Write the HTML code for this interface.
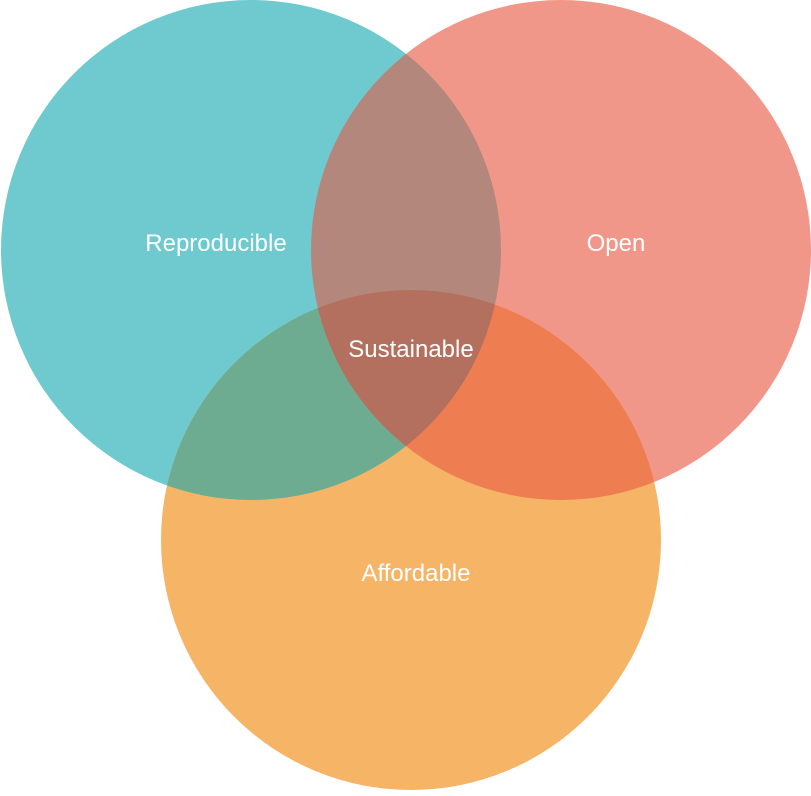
<!DOCTYPE html>
<html><head><style>html,body{margin:0;padding:0;background:#fff}</style></head>
<body>
<svg width="811" height="791" viewBox="0 0 811 791" xmlns="http://www.w3.org/2000/svg">
<defs>
<clipPath id="t"><circle cx="251" cy="250" r="250"/></clipPath>
<clipPath id="r"><circle cx="561" cy="250" r="250"/></clipPath>
</defs>
<circle cx="251" cy="250" r="250" fill="#6ECACF"/>
<circle cx="561" cy="250" r="250" fill="#F19789"/>
<circle cx="411" cy="540" r="250" fill="#F5B466"/>
<g clip-path="url(#t)"><circle cx="561" cy="250" r="250" fill="#B4877C"/><circle cx="411" cy="540" r="250" fill="#6EAC91"/></g>
<g clip-path="url(#r)"><circle cx="411" cy="540" r="250" fill="#EE7D52"/></g>
<g clip-path="url(#t)"><g clip-path="url(#r)"><circle cx="411" cy="540" r="250" fill="#B4705E"/></g></g>
<g font-family="Liberation Sans, sans-serif" font-size="24" fill="#fff" text-anchor="middle">
<text x="216" y="251">Reproducible</text>
<text x="616" y="251">Open</text>
<text x="411" y="357">Sustainable</text>
<text x="416" y="581">Affordable</text>
</g>
</svg>
</body></html>
